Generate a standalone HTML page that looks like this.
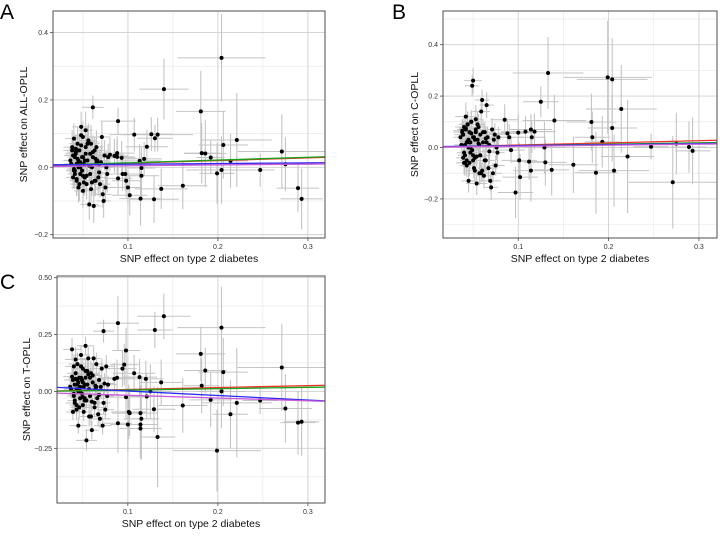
<!DOCTYPE html>
<html><head><meta charset="utf-8">
<style>
html,body{margin:0;padding:0;background:#fff;width:720px;height:538px;overflow:hidden;font-family:"Liberation Sans",Arial,sans-serif}
svg{position:absolute;left:0;top:0}
</style></head>
<body>
<svg id="chart" width="720" height="538" viewBox="0 0 720 538"></svg>
<script>
// ---- shared cluster SNPs (effect on T2D) ----
const clusterX = [0.036,0.038,0.039,0.040,0.041,0.041,0.042,0.043,0.043,0.044,0.045,0.045,0.046,0.047,0.047,0.048,0.049,0.050,0.050,0.051,0.052,0.053,0.053,0.054,0.055,0.056,0.057,0.058,0.058,0.059,0.060,0.061,0.062,0.063,0.064,0.065,0.066,0.067,0.068,0.069,0.070,0.071,0.072,0.073,0.074,0.075,0.076,0.077,0.078,0.040,0.044,0.048,0.052,0.056,0.060,0.064,0.068,0.042,0.046,0.050,
 0.037,0.039,0.041,0.042,0.043,0.044,0.045,0.046,0.047,0.048,0.049,0.050,0.051,0.052,0.053,0.054,0.055,0.057,0.059,0.061,0.063,0.065,0.040,0.038];
const clusterSX = [0.004,0.005,0.004,0.005,0.004,0.005,0.006,0.004,0.004,0.005,0.005,0.004,0.006,0.005,0.004,0.005,0.004,0.005,0.006,0.004,0.005,0.005,0.004,0.006,0.004,0.005,0.005,0.004,0.006,0.005,0.004,0.005,0.004,0.006,0.005,0.004,0.005,0.005,0.004,0.006,0.004,0.005,0.005,0.004,0.006,0.005,0.005,0.004,0.005,0.004,0.005,0.004,0.005,0.006,0.004,0.005,0.005,0.004,0.004,0.005,
 0.004,0.005,0.004,0.005,0.004,0.005,0.004,0.005,0.004,0.005,0.004,0.005,0.004,0.005,0.004,0.005,0.004,0.005,0.004,0.005,0.004,0.005,0.004,0.005];
const clusterSY = [0.04,0.05,0.035,0.045,0.04,0.05,0.055,0.04,0.045,0.05,0.035,0.045,0.05,0.04,0.055,0.045,0.04,0.05,0.045,0.035,0.05,0.04,0.055,0.045,0.04,0.05,0.045,0.04,0.05,0.055,0.04,0.045,0.05,0.04,0.045,0.05,0.04,0.055,0.045,0.04,0.05,0.045,0.04,0.05,0.045,0.04,0.05,0.055,0.04,0.045,0.05,0.04,0.045,0.05,0.04,0.045,0.05,0.04,0.045,0.05,
 0.04,0.05,0.045,0.04,0.05,0.045,0.04,0.05,0.045,0.04,0.05,0.045,0.04,0.05,0.045,0.04,0.05,0.045,0.04,0.05,0.045,0.04,0.05,0.045];
// ---- per-panel cluster outcomes ----
const clusterYA = [0.02,0.06,-0.03,0.085,0.03,-0.01,0.04,0.01,-0.04,0.07,0.02,-0.06,0.05,0.00,-0.02,0.12,0.03,-0.07,0.09,0.01,-0.03,0.06,0.11,-0.05,0.02,0.08,-0.11,0.04,-0.02,0.07,0.00,0.03,-0.115,0.05,-0.04,0.06,0.02,-0.03,0.01,-0.05,0.015,0.09,-0.08,-0.10,0.035,-0.06,0.00,-0.02,0.03,-0.01,0.05,0.095,-0.03,0.075,-0.045,0.025,-0.015,0.055,0.01,-0.025,
 0.01,0.035,-0.02,0.045,-0.035,0.025,0.0,-0.05,0.015,0.065,-0.01,0.03,-0.045,0.02,0.04,-0.025,0.07,0.005,-0.065,0.045,-0.04,0.015,-0.005,0.05];
const clusterYB = [0.04,0.06,-0.04,0.08,0.01,-0.06,0.12,0.02,-0.07,0.09,0.03,-0.13,0.06,-0.02,0.00,0.10,0.24,0.26,-0.05,0.04,-0.09,0.07,0.11,-0.14,0.03,0.08,-0.10,0.05,-0.03,0.14,0.185,0.02,-0.11,0.06,-0.05,0.165,0.04,-0.08,0.01,-0.13,-0.155,0.07,-0.10,0.03,0.05,-0.07,0.00,-0.02,0.04,-0.06,0.09,0.055,-0.04,0.015,-0.09,0.035,-0.015,0.075,0.02,-0.03,
 0.01,0.05,-0.03,0.07,-0.05,0.025,0.0,-0.06,0.02,0.10,-0.01,0.04,-0.08,0.03,0.06,-0.035,0.09,0.01,-0.1,0.06,-0.05,0.02,-0.02,0.065];
const clusterYC = [0.02,0.185,-0.09,0.11,0.03,-0.05,0.14,0.01,-0.08,0.12,-0.15,0.04,0.06,-0.03,0.00,0.16,0.05,-0.06,0.10,0.02,-0.04,0.20,0.09,-0.215,0.03,0.145,-0.11,0.06,-0.02,0.08,-0.17,0.04,0.145,-0.07,0.01,0.12,-0.03,-0.10,0.05,-0.12,0.02,0.10,-0.15,-0.05,0.035,-0.08,0.11,-0.02,0.03,-0.01,0.05,0.06,-0.03,0.075,-0.045,0.025,-0.015,0.055,0.01,-0.025,
 0.01,0.05,-0.04,0.08,-0.06,0.03,0.0,-0.07,0.02,0.11,-0.01,0.04,-0.09,0.03,0.06,-0.04,0.09,0.01,-0.11,0.07,-0.05,0.02,-0.02,0.065];
// ---- outlier SNPs per panel ----
const outXA = [0.061,0.089,0.107,0.126,0.133,0.130,0.140,0.121,0.118,0.113,0.115,0.115,0.114,0.129,0.137,0.161,0.181,0.182,0.186,0.192,0.199,0.204,0.204,0.206,0.214,0.221,0.247,0.271,0.275,0.289,0.293,0.102,0.100,0.098,0.097,0.094,0.089,0.088,0.093,0.088,0.080,0.085];
const outYA = [0.178,0.137,0.097,0.098,0.097,0.086,0.232,0.061,0.025,0.019,-0.002,-0.025,-0.093,-0.095,-0.064,-0.055,0.166,0.042,0.041,0.029,-0.018,0.325,-0.008,0.066,0.019,0.081,-0.008,0.047,0.009,-0.062,-0.094,-0.083,-0.060,-0.040,-0.020,-0.020,-0.033,0.031,0.028,0.042,0.037,0.034];
const outSXA = [0.006,0.010,0.014,0.012,0.020,0.010,0.014,0.012,0.010,0.012,0.008,0.010,0.012,0.014,0.015,0.014,0.014,0.010,0.012,0.008,0.010,0.025,0.020,0.014,0.010,0.020,0.008,0.025,0.015,0.012,0.012,0.010,0.008,0.008,0.010,0.010,0.008,0.010,0.008,0.010,0.008,0.008];
const outSYA = [0.035,0.04,0.05,0.05,0.05,0.04,0.09,0.05,0.05,0.05,0.06,0.07,0.08,0.07,0.06,0.07,0.12,0.09,0.10,0.05,0.09,0.13,0.10,0.10,0.08,0.14,0.05,0.11,0.08,0.07,0.09,0.06,0.05,0.05,0.05,0.05,0.05,0.05,0.05,0.05,0.05,0.05];
const outXB = [0.133,0.125,0.140,0.137,0.130,0.129,0.114,0.112,0.115,0.114,0.118,0.108,0.100,0.101,0.102,0.097,0.161,0.181,0.182,0.186,0.193,0.199,0.204,0.204,0.206,0.214,0.221,0.247,0.271,0.275,0.289,0.293,0.090,0.088,0.085,0.092];
const outYB = [0.290,0.178,0.105,-0.087,-0.058,0.000,-0.090,-0.055,0.040,0.070,0.062,0.062,0.058,-0.050,-0.115,-0.175,-0.067,0.099,0.040,-0.098,0.022,0.273,0.265,0.076,-0.090,0.150,-0.035,0.003,-0.135,0.015,0.002,-0.013,0.040,0.055,0.108,-0.010];
const outSXB = [0.020,0.010,0.018,0.010,0.012,0.012,0.010,0.010,0.008,0.012,0.012,0.014,0.010,0.010,0.010,0.010,0.014,0.014,0.010,0.012,0.010,0.025,0.020,0.014,0.020,0.020,0.015,0.010,0.025,0.015,0.010,0.010,0.008,0.010,0.008,0.008];
const outSYB = [0.14,0.06,0.10,0.10,0.09,0.10,0.12,0.07,0.06,0.06,0.07,0.06,0.07,0.07,0.09,0.10,0.11,0.11,0.10,0.16,0.10,0.22,0.16,0.13,0.14,0.17,0.22,0.05,0.18,0.12,0.10,0.13,0.05,0.05,0.06,0.05];
const outXC = [0.073,0.089,0.130,0.140,0.181,0.186,0.182,0.204,0.206,0.204,0.192,0.199,0.214,0.221,0.247,0.271,0.275,0.289,0.293,0.161,0.133,0.129,0.125,0.121,0.120,0.113,0.107,0.114,0.115,0.114,0.114,0.101,0.100,0.102,0.098,0.096,0.094,0.098,0.089,0.088,0.085,0.137];
const outYC = [0.265,0.300,0.270,0.330,0.165,0.092,0.025,0.280,0.085,0.000,-0.037,-0.260,-0.100,-0.050,-0.040,0.105,-0.075,-0.137,-0.133,-0.062,-0.200,-0.078,0.000,-0.022,0.055,0.063,0.080,-0.095,-0.120,-0.145,-0.163,-0.090,-0.145,-0.095,0.180,0.118,0.100,-0.025,-0.140,0.060,0.055,0.040];
const outSXC = [0.006,0.012,0.010,0.015,0.014,0.012,0.010,0.025,0.014,0.014,0.012,0.025,0.010,0.020,0.010,0.025,0.015,0.010,0.010,0.014,0.010,0.012,0.012,0.012,0.010,0.010,0.012,0.010,0.010,0.010,0.012,0.010,0.010,0.010,0.008,0.008,0.008,0.010,0.008,0.010,0.008,0.012];
const outSYC = [0.05,0.12,0.08,0.10,0.12,0.10,0.12,0.18,0.15,0.16,0.12,0.18,0.15,0.24,0.06,0.19,0.15,0.14,0.15,0.12,0.22,0.10,0.12,0.10,0.08,0.08,0.08,0.12,0.18,0.15,0.12,0.12,0.12,0.10,0.10,0.09,0.08,0.10,0.13,0.08,0.07,0.10];
// ---- MR regression lines: [red, green, blue, purple] ----
const lineColors = ["#e8352c","#1aa01a","#2a2af0","#c85ad8"];
const interceptA = [0.004,0.005,0.007,0.002];
const slopeA = [0.080,0.082,0.020,0.025];
const interceptB = [0.001,0.002,0.003,0.001];
const slopeB = [0.085,0.055,0.040,0.040];
const interceptC = [0.000,0.000,0.022,-0.005];
const slopeC = [0.085,0.060,-0.200,-0.120];
// ---- ticks ----
const xTicks = [0.1,0.2,0.3];
const xTickLabels = ["0.1","0.2","0.3"];
const yTicksA = [-0.2,0.0,0.2,0.4];
const yTickLabelsA = ["\u22120.2","0.0","0.2","0.4"];
const yTicksB = [-0.2,0.0,0.2,0.4];
const yTickLabelsB = ["\u22120.2","0.0","0.2","0.4"];
const yTicksC = [-0.25,0.0,0.25,0.5];
const yTickLabelsC = ["\u22120.25","0.00","0.25","0.50"];

const NS="http://www.w3.org/2000/svg";
const svg=document.getElementById('chart');
function mk(tag,attrs,parent){const e=document.createElementNS(NS,tag);for(const k in attrs)e.setAttribute(k,attrs[k]);(parent||svg).appendChild(e);return e;}

const panels=[
 {id:'a',letter:'A',lx:0,ly:19,box:[53,11,325,238],xdom:[0.0167,0.319],ydom:[-0.21,0.464],ylab:'SNP effect on ALL-OPLL',ylx:27,xly:262,
  x:clusterX.concat(outXA),y:clusterYA.concat(outYA),sx:clusterSX.concat(outSXA),sy:clusterSY.concat(outSYA),ic:interceptA,sl:slopeA,yt:yTicksA,ytl:yTickLabelsA,minorY:[-0.1,0.1,0.3]},
 {id:'b',letter:'B',lx:392,ly:19,box:[443,11,717,238],xdom:[0.0167,0.32],ydom:[-0.352,0.531],ylab:'SNP effect on C-OPLL',ylx:418,xly:262,
  x:clusterX.concat(outXB),y:clusterYB.concat(outYB),sx:clusterSX.concat(outSXB),sy:clusterSY.concat(outSYB),ic:interceptB,sl:slopeB,yt:yTicksB,ytl:yTickLabelsB,minorY:[-0.3,-0.1,0.1,0.3,0.5]},
 {id:'c',letter:'C',lx:0,ly:289,box:[57,276,325,503],xdom:[0.0213,0.319],ydom:[-0.49,0.507],ylab:'SNP effect on T-OPLL',ylx:30,xly:527,
  x:clusterX.concat(outXC),y:clusterYC.concat(outYC),sx:clusterSX.concat(outSXC),sy:clusterSY.concat(outSYC),ic:interceptC,sl:slopeC,yt:yTicksC,ytl:yTickLabelsC,minorY:[-0.375,-0.125,0.125,0.375]}
];

panels.forEach(p=>{
 const [x0,y0,x1,y1]=p.box;
 const g=mk('g',{});
 
 
 const sx=v=>x0+(v-p.xdom[0])/(p.xdom[1]-p.xdom[0])*(x1-x0);
 const sy=v=>y1-(v-p.ydom[0])/(p.ydom[1]-p.ydom[0])*(y1-y0);
 const clip='clip-'+p.id;
 const cp=mk('clipPath',{id:clip},g);mk('rect',{x:x0,y:y0,width:x1-x0,height:y1-y0},cp);
 const grid=mk('g',{},g);
 
 
 [0.05,0.15,0.25].forEach(v=>{const X=sx(v);if(X>x0&&X<x1)mk('line',{x1:X,x2:X,y1:y0,y2:y1,stroke:'#e6e6e6','stroke-width':0.6},grid);});
 p.minorY.forEach(v=>{const Y=sy(v);if(Y>y0&&Y<y1)mk('line',{x1:x0,x2:x1,y1:Y,y2:Y,stroke:'#e6e6e6','stroke-width':0.6},grid);});
 xTicks.forEach(v=>{const X=sx(v);mk('line',{x1:X,x2:X,y1:y0,y2:y1,stroke:'#cfcfcf','stroke-width':0.9},grid);});
 p.yt.forEach(v=>{const Y=sy(v);mk('line',{x1:x0,x2:x1,y1:Y,y2:Y,stroke:'#cfcfcf','stroke-width':0.9},grid);});
 const data=mk('g',{'clip-path':'url(#'+clip+')'},g);
 
 
 for(let i=0;i<p.x.length;i++){
  const X=sx(p.x[i]),Y=sy(p.y[i]);
  mk('line',{x1:sx(p.x[i]-p.sx[i]*1.96),x2:sx(p.x[i]+p.sx[i]*1.96),y1:Y,y2:Y,stroke:'#c4c4c4','stroke-width':1},data);
  mk('line',{x1:X,x2:X,y1:sy(p.y[i]-p.sy[i]),y2:sy(p.y[i]+p.sy[i]),stroke:'#c4c4c4','stroke-width':1.1},data);
 }
 for(let i=0;i<p.x.length;i++){
  const c=mk('circle',{cx:sx(p.x[i]),cy:sy(p.y[i]),r:2,fill:'#000'},data);
  
  
 }
 const lines=mk('g',{'clip-path':'url(#'+clip+')'},g);
 for(let k=0;k<4;k++){
  const a=p.xdom[0],b=p.xdom[1];
  const l=mk('line',{x1:sx(a),x2:sx(b),y1:sy(p.ic[k]+p.sl[k]*a),y2:sy(p.ic[k]+p.sl[k]*b),stroke:lineColors[k],'stroke-width':1.3},lines);
  
  
 }
 mk('rect',{x:x0,y:y0,width:x1-x0,height:y1-y0,fill:'none',stroke:'#4d4d4d','stroke-width':1},g);
 xTicks.forEach((v,i)=>{const X=sx(v);mk('line',{x1:X,x2:X,y1:y1,y2:y1+3,stroke:'#4d4d4d','stroke-width':0.8},g);
  const t=mk('text',{x:X,y:y1+11,'font-size':7,'text-anchor':'middle',fill:'#333'},g);t.textContent=xTickLabels[i];
  
  });
 p.yt.forEach((v,i)=>{const Y=sy(v);mk('line',{x1:x0-3,x2:x0,y1:Y,y2:Y,stroke:'#4d4d4d','stroke-width':0.8},g);
  const t=mk('text',{x:x0-5,y:Y+2.5,'font-size':7,'text-anchor':'end',fill:'#333'},g);t.textContent=p.ytl[i];
  
  });
 const xt=mk('text',{x:(x0+x1)/2,y:p.xly,'font-size':10.5,'text-anchor':'middle',fill:'#111'},g);xt.textContent='SNP effect on type 2 diabetes';
 
 
 const yc=(y0+y1)/2;
 const yl=mk('text',{x:p.ylx,y:yc,'font-size':10.5,'text-anchor':'middle',fill:'#111',transform:'rotate(-90 '+p.ylx+' '+yc+')'},g);yl.textContent=p.ylab;
 
 
 const lt=mk('text',{x:p.lx,y:p.ly,'font-size':21,fill:'#000'},g);lt.textContent=p.letter;
 
 
});
</script>
</body></html>
